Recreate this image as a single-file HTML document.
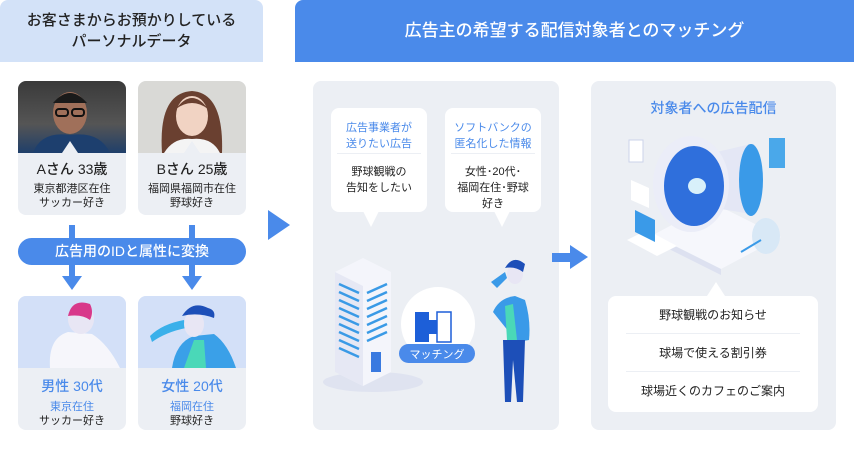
<!DOCTYPE html>
<html><head><meta charset="utf-8"><style>
*{margin:0;padding:0;box-sizing:border-box}
body{width:854px;height:450px;background:#fff;position:relative;overflow:hidden;font-family:"Liberation Sans","Noto Sans CJK JP",sans-serif;color:#222}
.a{position:absolute}
.hdr1{left:0;top:0;width:263px;height:62px;background:#d3e2f8;border-radius:8px 8px 0 0;text-align:center;font-size:15px;line-height:21px;padding-top:10px;font-weight:500;color:#222}
.hdr2{left:295px;top:0;width:559px;height:62px;background:#4a8aea;border-radius:8px 0 0 0;color:#fff;text-align:center;font-size:17px;line-height:62px;font-weight:500}
.card{background:#eceff4;border-radius:8px;overflow:hidden;width:108px;height:134px;text-align:center}
.ph{height:72px;position:relative}
.nm{font-size:14px;font-weight:500;margin-top:6px}
.sm{font-size:11px;line-height:14px;margin-top:3px}
.pill{left:18px;top:238px;width:228px;height:27px;background:#4a8aea;border-radius:14px;color:#fff;font-size:14px;line-height:27px;text-align:center;font-weight:500}
.panel{background:#eceff4;border-radius:8px}
.bub{background:#fff;border-radius:8px;width:96px;height:104px;text-align:center}
.bub .t{color:#4a8aea;font-size:11px;line-height:16px;padding-top:12px;height:46px;border-bottom:1px solid #eceff4;margin:0 6px}
.bub .b{font-size:11px;line-height:16px;padding-top:10px}
.tail{width:0;height:0;border-left:8px solid transparent;border-right:8px solid transparent;border-top:16px solid #fff}
.list{left:608px;top:296px;width:210px;height:116px;background:#fff;border-radius:8px;text-align:center;font-size:12px}
.list div{height:38px;line-height:38px;margin:0 18px;border-bottom:1px solid #eceff4}
.list div:last-child{border:none}
</style></head><body>
<div class="a hdr1">お客さまからお預かりしている<br>パーソナルデータ</div>
<div class="a hdr2">広告主の希望する配信対象者とのマッチング</div>

<div class="a card" style="left:18px;top:81px">
 <div class="ph" style="background:linear-gradient(180deg,#3a3a3a,#555 60%,#1f3f6a)">
  <svg width="108" height="72" class="a" style="left:0;top:0"><ellipse cx="52" cy="32" rx="17" ry="21" fill="#a0705a"/><path d="M35 22q17-20 34 0" fill="#1a1a1a"/><rect x="38" y="28" width="12" height="7" rx="3" fill="none" stroke="#111" stroke-width="2"/><rect x="54" y="28" width="12" height="7" rx="3" fill="none" stroke="#111" stroke-width="2"/><path d="M15 72q8-22 37-18q30-4 40 18z" fill="#1d3f6e"/><path d="M44 72l8-12 8 12z" fill="#eceff4"/></svg>
 </div>
 <div class="nm">Aさん 33歳</div><div class="sm">東京都港区在住<br>サッカー好き</div></div>
<div class="a card" style="left:138px;top:81px">
 <div class="ph" style="background:#d9d9d6">
  <svg width="108" height="72" class="a" style="left:0;top:0"><path d="M24 72q-4-60 30-62q32 2 30 62z" fill="#6a4030"/><ellipse cx="54" cy="35" rx="16" ry="20" fill="#f1d3c3"/><path d="M38 28q16-22 32 0q-16-12-32 0z" fill="#6a4030"/><path d="M26 72q10-16 28-14q20-2 28 14z" fill="#f4f4f4"/><path d="M46 72l8-12 8 12z" fill="#eceff4"/></svg>
 </div>
 <div class="nm">Bさん 25歳</div><div class="sm">福岡県福岡市在住<br>野球好き</div></div>

<div class="a" style="left:69px;top:225px;width:6px;height:13px;background:#4a8aea"></div>
<div class="a" style="left:189px;top:225px;width:6px;height:13px;background:#4a8aea"></div>
<div class="a pill">広告用のIDと属性に変換</div>
<div class="a" style="left:69px;top:265px;width:6px;height:12px;background:#4a8aea"></div>
<div class="a" style="left:62px;top:276px;border-left:10px solid transparent;border-right:10px solid transparent;border-top:14px solid #4a8aea"></div>
<div class="a" style="left:189px;top:265px;width:6px;height:12px;background:#4a8aea"></div>
<div class="a" style="left:182px;top:276px;border-left:10px solid transparent;border-right:10px solid transparent;border-top:14px solid #4a8aea"></div>

<div class="a card" style="left:18px;top:296px">
 <div class="ph" style="background:#d3e0f8">
  <svg width="108" height="72" class="a" style="left:0;top:0"><path d="M32 72q-2-30 18-36l24 2q16 10 28 34z" fill="#f6f6fb"/><ellipse cx="63" cy="23" rx="13" ry="15" fill="#e8e6f4"/><path d="M50 20q4-18 22-12q4 8 0 16q-8-6-22-4z" fill="#d8388a"/></svg>
 </div>
 <div class="nm" style="color:#4a8aea;margin-top:8px">男性 30代</div><div class="sm" style="margin-top:4px"><span style="color:#4a8aea">東京在住</span><br>サッカー好き</div></div>
<div class="a card" style="left:138px;top:296px">
 <div class="ph" style="background:#d3e0f8">
  <svg width="108" height="72" class="a" style="left:0;top:0"><path d="M34 72q4-26 22-32l20-2q14 10 22 34z" fill="#3aa0e8"/><path d="M46 72l10-28 10 0 2 28z" fill="#4ad8b8"/><path d="M12 40q12-12 34-16l2 8q-20 4-34 14z" fill="#3ab0ea"/><ellipse cx="56" cy="28" rx="10" ry="13" fill="#e8e6f4"/><path d="M44 20q10-16 26-8q8 2 6 10q-16-6-32-2z" fill="#1d4fb8"/></svg>
 </div>
 <div class="nm" style="color:#4a8aea;margin-top:8px">女性 20代</div><div class="sm" style="margin-top:4px"><span style="color:#4a8aea">福岡在住</span><br>野球好き</div></div>

<div class="a" style="left:268px;top:210px;border-top:15px solid transparent;border-bottom:15px solid transparent;border-left:22px solid #4a8aea"></div>

<div class="a panel" style="left:313px;top:81px;width:246px;height:349px"></div>
<div class="a bub" style="left:331px;top:108px"><div class="t">広告事業者が<br>送りたい広告</div><div class="b">野球観戦の<br>告知をしたい</div></div>
<div class="a tail" style="left:363px;top:211px"></div>
<div class="a bub" style="left:445px;top:108px"><div class="t">ソフトバンクの<br>匿名化した情報</div><div class="b">女性･20代･<br>福岡在住･野球<br>好き</div></div>
<div class="a tail" style="left:494px;top:211px"></div>
<svg class="a" style="left:313px;top:250px" width="246" height="180">
 <g transform="translate(0,-18)">
 <ellipse cx="60" cy="150" rx="50" ry="10" fill="#dfe3f0"/>
 <path d="M22 40l28-14 28 14v100l-28 14-28-14z" fill="#f4f5fb"/>
 <path d="M22 40l28 14v100l-28-14z" fill="#e6e8f4"/>
 <g stroke="#3a9ae6" stroke-width="2.5"><path d="M26 52l20 9M26 60l20 9M26 68l20 9M26 76l20 9M26 84l20 9M26 92l20 9M26 100l20 9M26 108l20 9M26 116l20 9"/><path d="M54 61l20-9M54 69l20-9M54 77l20-9M54 85l20-9M54 93l20-9M54 101l20-9M54 109l20-9"/></g>
 <rect x="58" y="120" width="10" height="20" fill="#3a7ae0"/>
 </g>
 <circle cx="125" cy="74" r="37" fill="#fff"/>
 <path d="M102 62h14v8h8v14h-8v8h-14z" fill="#1d5fd8"/><path d="M124 62h14v30h-14z" fill="#fff" stroke="#1d5fd8" stroke-width="1.5"/>
 <rect x="86" y="94" width="76" height="19" rx="9.5" fill="#4a8aea"/>
 <text x="124" y="108" fill="#fff" font-size="11" text-anchor="middle" font-family="Liberation Sans,Noto Sans CJK JP,sans-serif">マッチング</text>
 <path d="M180 62q6-14 22-16l10 4q6 20 4 40l-12 2z" fill="#3a9ae8"/>
 <path d="M192 56l8-2 4 36h-10z" fill="#4ad8b8"/>
 <path d="M190 90h22l-2 62h-6l-4-42-2 42h-6z" fill="#1d4fb8"/>
 <ellipse cx="202" cy="24" rx="8" ry="10" fill="#e8e6f4"/>
 <path d="M192 18q8-14 20-4l-2 8q-8-6-18-4z" fill="#1d4fb8"/>
 <path d="M178 32l14-10 2 6-10 10z" fill="#3a9ae8"/>
</svg>

<div class="a" style="left:552px;top:253px;width:20px;height:9px;background:#4a8aea"></div>
<div class="a" style="left:570px;top:245px;border-top:12px solid transparent;border-bottom:12px solid transparent;border-left:18px solid #4a8aea"></div>

<div class="a panel" style="left:591px;top:81px;width:245px;height:349px"></div>
<div class="a" style="left:591px;top:98px;width:245px;text-align:center;color:#4a8aea;font-size:14px;font-weight:500">対象者への広告配信</div>
<svg class="a" style="left:591px;top:130px" width="245" height="160">
 <path d="M62 105l60-32 68 34-60 32z" fill="#f6f7fc"/><path d="M62 105v6l68 34v-6z" fill="#dde1f0"/>
 <path d="M100 28l60-14v70l-60-10z" fill="#e4e7f5"/>
 <ellipse cx="160" cy="50" rx="12" ry="36" fill="#3a9ae8"/>
 <ellipse cx="100" cy="54" rx="38" ry="48" fill="#ebedf8"/>
 <ellipse cx="103" cy="56" rx="30" ry="40" fill="#2f6fdc"/>
 <ellipse cx="106" cy="56" rx="9" ry="8" fill="#d8f0fa"/>
 <path d="M40 50l18 8v20l-18-8z" fill="#fff"/><rect x="38" y="10" width="14" height="22" fill="#fff" stroke="#cbd3ea"/>
 <rect x="178" y="8" width="16" height="30" fill="#4aa8ea"/>
 <path d="M36 110l20-10 30 16-20 10z" fill="#fff"/><path d="M44 80l20 10v22l-20-10z" fill="#3a9ae8"/>
 <ellipse cx="175" cy="106" rx="14" ry="18" fill="#d8e8f6"/>
 <path d="M170 110l-20 12" stroke="#3a9ae8" stroke-width="2"/>
</svg>
<div class="a" style="left:707px;top:282px;border-left:9px solid transparent;border-right:9px solid transparent;border-bottom:14px solid #fff"></div>
<div class="a list"><div>野球観戦のお知らせ</div><div>球場で使える割引券</div><div>球場近くのカフェのご案内</div></div>
</body></html>
